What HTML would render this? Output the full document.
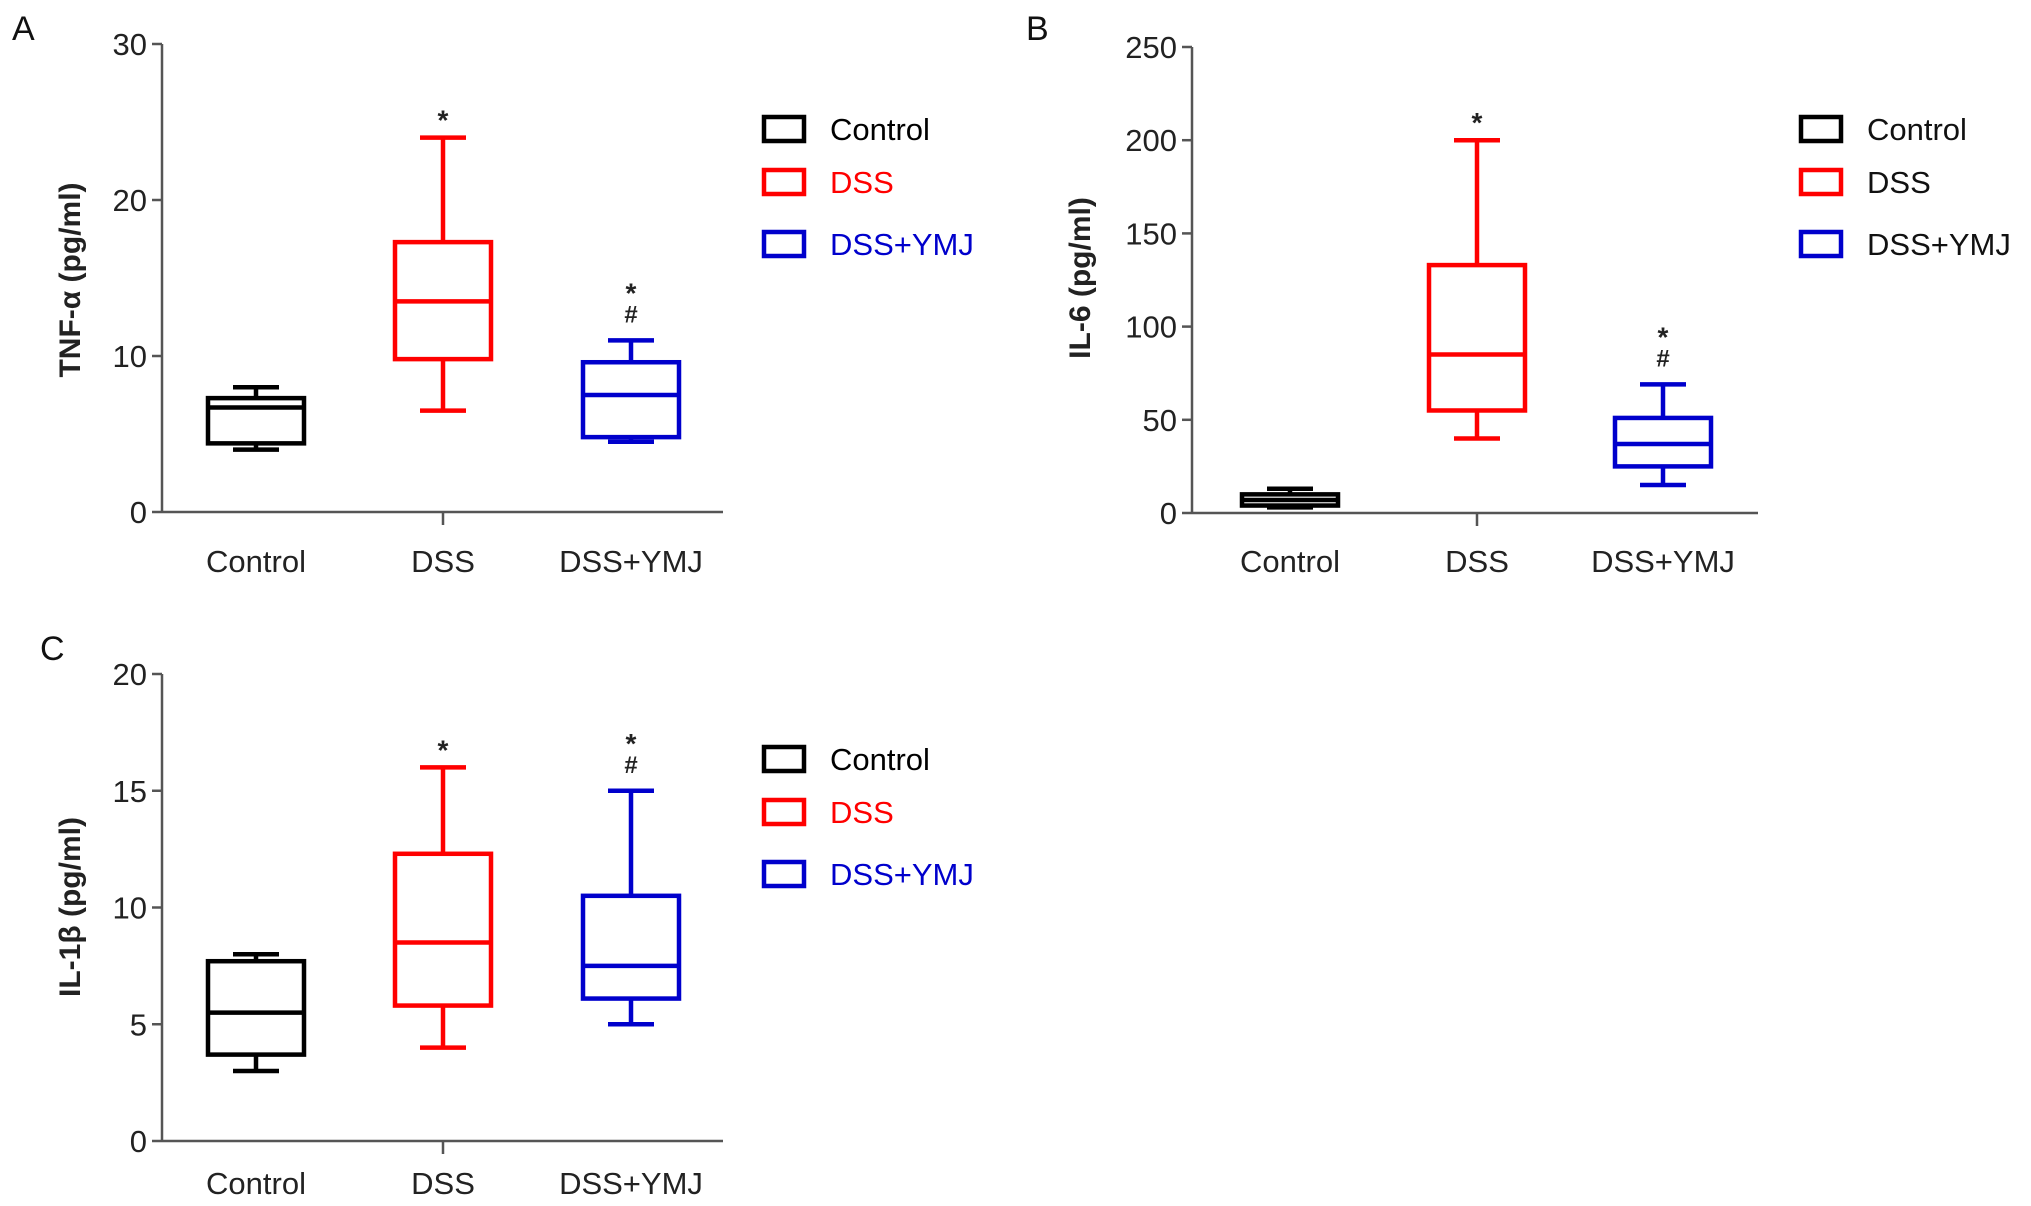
<!DOCTYPE html>
<html><head><meta charset="utf-8"><style>
html,body{margin:0;padding:0;background:#fff;}
svg{display:block;font-family:"Liberation Sans",Arial,sans-serif;}
</style></head><body>
<svg id="fig" width="2031" height="1206" viewBox="0 0 2031 1206"></svg>
<script>
const categories = ["Control","DSS","DSS+YMJ"];
const colors = ["#000000","#ff0000","#0000cc"];
// Panel A: TNF-alpha
const aTicks = [0,10,20,30];
const aMin = [4.0,6.5,4.5];
const aQ1 = [4.4,9.8,4.8];
const aMed = [6.7,13.5,7.5];
const aQ3 = [7.3,17.3,9.6];
const aMax = [8.0,24.0,11.0];
const aMarks = ["","*","*#"];
// Panel B: IL-6
const bTicks = [0,50,100,150,200,250];
const bMin = [3,40,15];
const bQ1 = [4,55,25];
const bMed = [7,85,37];
const bQ3 = [10,133,51];
const bMax = [13,200,69];
const bMarks = ["","*","*#"];
// Panel C: IL-1beta
const cTicks = [0,5,10,15,20];
const cMin = [3,4,5];
const cQ1 = [3.7,5.8,6.1];
const cMed = [5.5,8.5,7.5];
const cQ3 = [7.7,12.3,10.5];
const cMax = [8,16,15];
const cMarks = ["","*","*#"];

const NS="http://www.w3.org/2000/svg";
const svg=document.getElementById('fig');
function mk(tag,attrs,parent,text){const e=document.createElementNS(NS,tag);for(const k in attrs)e.setAttribute(k,attrs[k]);if(text!==undefined)e.textContent=text;(parent||svg).appendChild(e);return e;}

function panel(cfg){
  const g=mk('g',{});
  
  
  const ymax=cfg.ticks[cfg.ticks.length-1];
  const y=v=>cfg.y0-(v/ymax)*(cfg.y0-cfg.yTop);
  const x=i=>cfg.cx[i];
  const L=mk('text',{x:cfg.lx,y:cfg.ly,'font-size':34,fill:'#111'},g,cfg.letter);
  
  
  const ya=mk('line',{x1:cfg.ax,y1:cfg.yTop,x2:cfg.ax,y2:cfg.y0,stroke:'#555','stroke-width':2.5},g);
  
  
  const xa=mk('line',{x1:cfg.ax,y1:cfg.y0,x2:cfg.axEnd,y2:cfg.y0,stroke:'#555','stroke-width':2.5},g);
  
  
  mk('line',{x1:x(1),y1:cfg.y0,x2:x(1),y2:cfg.y0+13,stroke:'#555','stroke-width':2.5},g);
  cfg.ticks.forEach(t=>{
    mk('line',{x1:cfg.ax-10,y1:y(t),x2:cfg.ax,y2:y(t),stroke:'#555','stroke-width':2.5},g);
    const tl=mk('text',{x:cfg.ax-15,y:y(t)+11,'font-size':31,'text-anchor':'end',fill:'#222'},g,String(t));
    
    
  });
  const yt=mk('text',{x:0,y:0,'font-size':30,'text-anchor':'middle',fill:'#222','font-weight':'bold',transform:`translate(${cfg.titleX},${cfg.titleY}) rotate(-90)`},g,cfg.title);
  
  
  categories.forEach((c,i)=>{
    const cl=mk('text',{x:x(i),y:cfg.labY,'font-size':31,'text-anchor':'middle',fill:'#222'},g,c);
    
    
    const bg=mk('g',{stroke:colors[i],'stroke-width':4.5,fill:'none'},g);
    
    
    const hw=48, cw=23;
    mk('line',{x1:x(i),y1:y(cfg.max[i]),x2:x(i),y2:y(cfg.q3[i])},bg);
    mk('line',{x1:x(i),y1:y(cfg.min[i]),x2:x(i),y2:y(cfg.q1[i])},bg);
    mk('line',{x1:x(i)-cw,y1:y(cfg.max[i]),x2:x(i)+cw,y2:y(cfg.max[i])},bg);
    mk('line',{x1:x(i)-cw,y1:y(cfg.min[i]),x2:x(i)+cw,y2:y(cfg.min[i])},bg);
    mk('rect',{x:x(i)-hw,y:y(cfg.q3[i]),width:hw*2,height:y(cfg.q1[i])-y(cfg.q3[i]),fill:'#fff'},bg);
    mk('line',{x1:x(i)-hw,y1:y(cfg.med[i]),x2:x(i)+hw,y2:y(cfg.med[i])},bg);
    const m=cfg.marks[i];
    if(m.includes('*')){
      const s=mk('text',{x:x(i),y:y(cfg.max[i])-(m.includes('#')?38:8),'font-size':28,'font-weight':'bold','text-anchor':'middle',fill:'#222'},g,'*');
      
      
    }
    if(m.includes('#')){
      const h=mk('text',{x:x(i),y:y(cfg.max[i])-18,'font-size':24,'font-weight':'bold','text-anchor':'middle',fill:'#222'},g,'#');
      
      
    }
  });
  categories.forEach((c,i)=>{
    const le=mk('g',{},g);
    
    
    const yy=cfg.legY[i];
    mk('rect',{x:cfg.legX,y:yy,width:40,height:24,fill:'none',stroke:colors[i],'stroke-width':4.5},le);
    mk('text',{x:cfg.legX+66,y:yy+23,'font-size':31,fill:cfg.legTextColored?colors[i]:'#111'},le,c);
  });
}
panel({letter:'A',lx:12,ly:40,ax:162,axEnd:723,yTop:44,y0:512,cx:[256,443,631],ticks:aTicks,min:aMin,q1:aQ1,med:aMed,q3:aQ3,max:aMax,marks:aMarks,
  title:'TNF-\u03b1 (pg/ml)',titleX:80,titleY:280,labY:572,legX:764,legY:[117,170,232],legTextColored:true});
panel({letter:'B',lx:1026,ly:40,ax:1192,axEnd:1758,yTop:47,y0:513,cx:[1290,1477,1663],ticks:bTicks,min:bMin,q1:bQ1,med:bMed,q3:bQ3,max:bMax,marks:bMarks,
  title:'IL-6 (pg/ml)',titleX:1090,titleY:278,labY:572,legX:1801,legY:[117,170,232],legTextColored:false});
panel({letter:'C',lx:40,ly:660,ax:162,axEnd:723,yTop:674,y0:1141,cx:[256,443,631],ticks:cTicks,min:cMin,q1:cQ1,med:cMed,q3:cQ3,max:cMax,marks:cMarks,
  title:'IL-1\u03b2 (pg/ml)',titleX:80,titleY:907,labY:1194,legX:764,legY:[747,800,862],legTextColored:true});
</script>
</body></html>
